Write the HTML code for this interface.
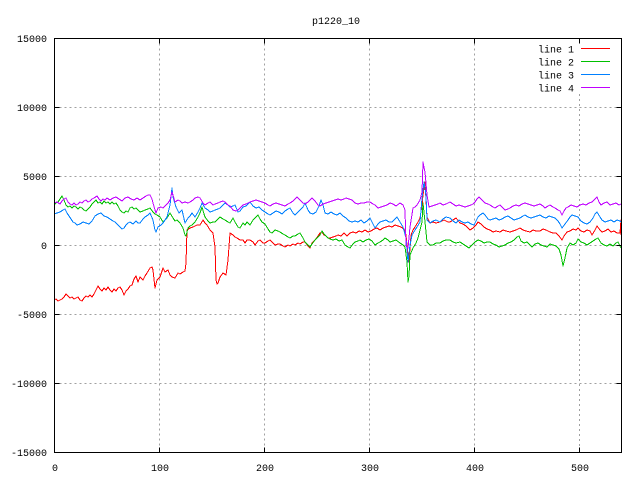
<!DOCTYPE html>
<html><head><meta charset="utf-8"><style>
html,body{margin:0;padding:0;background:#fff;}
svg{display:block;}
text{font-family:"Liberation Mono",monospace;font-size:10px;fill:#000;}
</style></head><body>
<svg width="640" height="480" viewBox="0 0 640 480" xmlns="http://www.w3.org/2000/svg">
<rect x="0" y="0" width="640" height="480" fill="#fff"/>
<g stroke="#a0a0a0" stroke-width="1" stroke-dasharray="2,3" fill="none" shape-rendering="crispEdges">
<line x1="159.5" y1="38.5" x2="159.5" y2="452.5"/>
<line x1="264.5" y1="38.5" x2="264.5" y2="452.5"/>
<line x1="369.5" y1="38.5" x2="369.5" y2="452.5"/>
<line x1="474.5" y1="38.5" x2="474.5" y2="452.5"/>
<line x1="579.5" y1="94" x2="579.5" y2="452.5"/>
<line x1="579.5" y1="38.5" x2="579.5" y2="42"/>
<line x1="54.5" y1="107.5" x2="621.5" y2="107.5"/>
<line x1="54.5" y1="176.5" x2="621.5" y2="176.5"/>
<line x1="54.5" y1="245.5" x2="621.5" y2="245.5"/>
<line x1="54.5" y1="314.5" x2="621.5" y2="314.5"/>
<line x1="54.5" y1="383.5" x2="621.5" y2="383.5"/>
</g>
<g fill="none" stroke-width="1" shape-rendering="crispEdges" stroke-linejoin="round">
<polyline stroke="#ff0000" points="54,300 56,299 58,301 60,300 62,299 64,297 66,294 68,296 70,298 72,297 74,299 76,298 78,297 80,300 82,301 84,298 86,296 88,297 90,295 92,297 94,294 96,290 98,286 100,289 102,291 104,288 106,290 108,287 110,290 112,292 114,289 116,291 118,288 120,287 122,290 124,295 126,291 128,289 130,286 132,285 134,279 136,276 138,282 140,277 143,280 145,276 147,273 150,268 152,267 153,270 155,288 157,280 160,277 163,268 165,272 168,270 170,275 172,277 175,278 178,273 180,274 183,272 185,271 186,263 187,230 190,228 193,227 195,226 197,225 200,225 203,220 205,223 207,225 210,230 213,233 215,247 216,280 217,284 218,283 220,277 223,273 226,275 228,260 230,233 233,235 235,237 237,238 240,240 243,240 245,243 247,240 250,240 253,242 255,245 258,241 260,240 263,243 265,243 268,241 270,240 273,243 275,245 278,244 280,244 283,246 285,247 288,245 290,246 293,244 295,245 298,243 300,244 303,242 305,242 308,246 310,248 312,243 315,240 318,236 320,233 322,232 324,235 326,236 328,238 330,238 333,237 336,236 338,235 341,236 344,233 347,236 350,233 353,232 356,233 359,231 362,232 365,230 368,232 371,231 374,229 377,228 380,230 383,228 386,227 389,226 392,227 395,225 398,226 401,227 404,229 406,235 408,255 409,262 411,235 413,230 415,227 418,222 420,218 422,205 423,195 425,182 426,200 427,217 430,223 433,222 436,223 440,222 444,220 448,222 450,222 453,220 456,218 460,223 463,224 466,226 470,230 473,228 476,225 478,222 481,224 484,227 487,229 490,230 493,232 496,231 500,232 503,230 506,231 510,232 513,231 516,230 520,228 523,230 526,231 530,232 533,230 536,231 540,231 543,229 546,230 550,232 553,233 556,233 559,236 562,240 564,236 567,232 570,231 573,229 576,230 578,228 581,231 584,232 587,230 590,231 592,235 595,230 597,226 600,230 602,232 605,231 608,229 611,232 614,231 617,233 620,233 621,220 621,235"/>
<polyline stroke="#00c000" points="54,205 56,203 58,202 60,199 62,196 64,200 66,205 68,207 70,206 72,208 74,206 76,207 78,209 80,207 82,208 84,210 86,211 88,209 90,207 92,204 94,202 96,200 98,203 100,202 102,204 104,201 106,203 108,202 110,204 112,202 114,204 116,203 118,206 120,210 122,212 124,213 126,211 128,212 130,208 132,207 134,209 136,208 138,210 140,212 143,211 145,210 148,209 150,208 153,212 155,214 157,215 160,217 163,222 165,220 167,218 170,213 173,218 175,221 177,220 180,223 183,228 185,235 186,236 188,228 190,226 192,225 195,222 198,217 200,213 202,207 204,214 205,217 208,221 210,223 213,222 215,222 218,219 220,217 223,219 225,220 228,222 230,223 233,218 235,222 238,227 240,228 243,223 245,225 247,222 250,225 253,220 255,218 258,215 260,219 262,222 265,224 268,229 270,232 272,233 275,230 278,231 280,232 283,234 285,235 288,237 290,238 293,236 295,236 298,234 300,233 303,238 305,242 308,245 310,247 312,244 315,240 318,237 320,235 322,231 324,234 326,236 328,238 330,239 333,240 336,239 339,241 342,240 345,245 348,247 350,248 353,244 355,242 358,241 360,240 363,242 366,240 369,239 372,241 375,245 378,243 380,242 383,240 385,238 388,240 390,242 393,241 396,240 400,243 403,245 405,247 407,262 408,282 409,276 410,255 413,248 416,243 418,238 420,230 422,222 423,203 425,222 427,242 430,245 433,245 436,243 440,243 443,241 446,240 450,240 453,242 456,243 460,242 463,244 466,246 469,248 472,245 475,242 478,240 481,241 484,243 487,242 490,242 493,244 496,245 499,247 502,246 505,245 508,243 511,242 514,240 517,237 519,236 521,241 524,243 527,242 530,245 532,247 535,244 538,243 541,245 544,246 547,247 550,244 553,245 556,246 559,249 561,255 563,266 565,258 567,248 570,243 573,245 576,243 578,239 581,242 584,243 587,245 590,243 593,241 596,239 598,238 601,243 604,245 607,246 610,244 613,246 616,243 618,242 621,248"/>
<polyline stroke="#0080ff" points="54,214 57,213 60,212 63,210 65,209 67,213 69,216 71,219 73,222 75,223 77,225 80,224 83,222 86,223 89,224 92,221 95,216 98,214 101,213 104,216 107,217 110,219 113,221 115,222 118,225 120,227 122,229 124,228 126,225 128,223 130,222 133,224 136,221 138,223 140,223 143,219 145,217 148,215 150,213 153,220 155,230 156,232 158,227 161,225 163,223 165,220 167,217 170,205 172,188 173,197 176,207 179,213 182,210 185,223 188,218 190,216 192,213 195,217 198,212 200,208 202,203 205,208 208,210 210,212 213,211 215,210 218,209 220,208 223,205 225,203 228,205 230,207 233,206 235,205 238,212 240,211 243,207 246,206 250,202 253,206 256,208 259,207 262,210 265,212 268,214 270,215 273,213 276,211 279,212 282,214 285,211 288,209 290,208 293,213 295,215 298,212 300,210 303,207 305,203 308,210 310,213 313,214 316,212 319,206 321,200 323,205 325,213 328,214 331,212 334,214 337,215 340,213 343,216 346,218 349,221 352,222 355,221 358,222 361,220 364,223 367,221 370,218 373,224 375,228 378,224 380,222 383,221 386,220 389,222 392,222 395,219 397,217 400,222 403,227 406,238 408,262 410,245 412,235 415,230 417,227 420,222 422,198 424,182 426,195 427,220 430,223 433,221 436,220 440,222 443,219 446,217 450,218 453,221 456,223 459,220 462,222 465,223 468,222 471,224 474,225 476,221 478,217 480,215 483,213 485,215 488,219 490,220 493,219 496,218 499,220 502,219 505,217 508,216 511,218 514,220 517,219 520,218 523,216 525,215 528,217 531,218 534,217 537,216 540,215 543,217 546,218 549,216 552,217 555,218 558,221 560,224 562,228 565,224 568,220 570,217 572,215 575,216 578,217 581,221 584,223 587,224 590,222 593,218 595,214 597,212 600,217 602,220 605,222 608,221 611,220 614,222 617,220 620,221 621,222"/>
<polyline stroke="#c000ff" points="54,203 57,202 60,204 62,201 64,199 66,198 68,202 70,204 72,205 74,203 76,205 78,204 80,202 82,203 84,201 86,200 88,202 90,201 92,199 94,198 97,196 99,199 101,201 103,199 105,200 107,198 110,200 113,198 116,197 119,199 122,201 125,198 128,197 131,199 134,200 137,198 140,200 143,198 146,196 148,195 150,195 152,199 153,203 155,210 156,213 158,208 161,207 163,208 165,206 168,203 170,200 172,192 173,195 175,202 178,200 180,201 182,203 185,202 188,203 190,202 193,200 195,198 198,197 200,198 203,203 205,205 208,203 210,202 213,205 215,204 218,203 220,202 223,201 225,202 228,205 230,206 233,210 236,211 238,210 241,207 243,205 246,204 250,202 253,201 256,200 259,201 262,202 265,203 268,205 270,206 273,204 276,203 279,204 282,205 285,206 288,204 290,203 293,201 295,199 297,197 300,200 303,203 305,204 308,202 310,200 312,198 315,201 318,205 320,206 323,204 326,203 329,202 332,201 335,200 338,199 341,200 344,199 346,198 349,199 352,200 355,203 358,204 361,203 364,203 367,202 370,202 373,204 375,205 378,208 381,207 384,206 387,205 390,203 393,204 396,206 400,203 403,205 405,210 406,245 408,248 410,227 413,208 415,207 417,205 420,200 422,192 423,162 425,172 427,195 429,207 432,206 435,205 438,204 440,203 443,205 446,204 450,202 453,204 456,206 459,205 462,206 465,207 468,206 471,205 473,204 475,202 477,199 479,197 481,199 483,201 485,203 488,204 490,205 493,207 495,208 498,206 500,205 503,208 505,210 508,209 510,208 513,206 516,205 519,206 522,204 525,203 528,204 531,205 534,206 537,205 540,204 543,206 545,208 548,206 550,205 553,207 555,208 558,210 560,211 562,215 564,211 566,208 568,207 571,205 574,206 577,207 580,205 583,204 586,205 589,203 592,202 595,199 597,197 599,202 601,205 604,203 607,202 610,205 613,204 616,203 619,205 621,204"/>
</g>
<g stroke="#000" stroke-width="1" fill="none" shape-rendering="crispEdges">
<rect x="54.5" y="38.5" width="567" height="414"/>
<path d="M54.5,107.5h5M54.5,176.5h5M54.5,245.5h5M54.5,314.5h5M54.5,383.5h5M621.5,107.5h-5M621.5,176.5h-5M621.5,245.5h-5M621.5,314.5h-5M621.5,383.5h-5"/>
<path d="M159.5,452.5v-5M264.5,452.5v-5M369.5,452.5v-5M474.5,452.5v-5M579.5,452.5v-5M159.5,38.5v5M264.5,38.5v5M369.5,38.5v5M474.5,38.5v5M579.5,38.5v5"/>
</g>
<g stroke-width="1" shape-rendering="crispEdges">
<line x1="581" y1="48.5" x2="610" y2="48.5" stroke="#ff0000"/>
<line x1="581" y1="61.5" x2="610" y2="61.5" stroke="#00c000"/>
<line x1="581" y1="74.5" x2="610" y2="74.5" stroke="#0080ff"/>
<line x1="581" y1="87.5" x2="610" y2="87.5" stroke="#c000ff"/>
</g>
<g text-anchor="end">
<text x="574" y="52.5">line 1</text>
<text x="574" y="65.5">line 2</text>
<text x="574" y="78.5">line 3</text>
<text x="574" y="91.5">line 4</text>
</g>
<g text-anchor="end">
<text x="47" y="42">15000</text>
<text x="47" y="111">10000</text>
<text x="47" y="180">5000</text>
<text x="47" y="249">0</text>
<text x="47" y="318">-5000</text>
<text x="47" y="387">-10000</text>
<text x="47" y="456">-15000</text>
</g>
<g text-anchor="middle">
<text x="55" y="471">0</text>
<text x="160" y="471">100</text>
<text x="265" y="471">200</text>
<text x="370" y="471">300</text>
<text x="475" y="471">400</text>
<text x="580" y="471">500</text>
<text x="336" y="24">p1220_10</text>
</g>
</svg>
</body></html>
